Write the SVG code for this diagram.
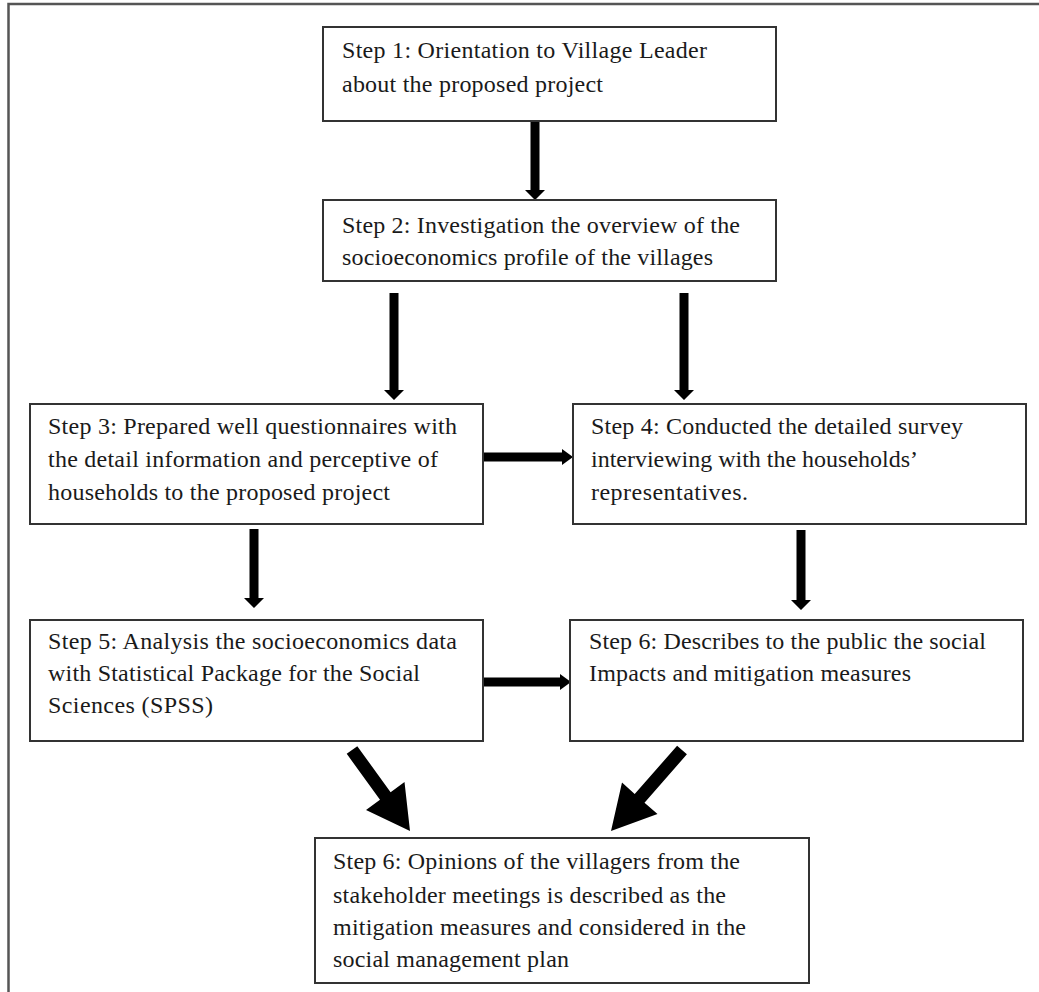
<svg xmlns="http://www.w3.org/2000/svg" width="1039" height="992" viewBox="0 0 1039 992">
<style>
.box{fill:#fff;stroke:#333;stroke-width:2}
.t{font-family:"Liberation Serif","Times New Roman",serif;font-size:24px;fill:#1a1a1a}
.arr{fill:#000;stroke:none}
.frame{stroke:#555;stroke-width:2.5;fill:none}
</style>
<rect width="1039" height="992" fill="#fff"/>
<path class="frame" d="M8.5,992 V4 H1039"/>
<g id="connectors">
<path class="arr" d="M530.5,122 H539.5 V190 H545 L535,200 L525,190 H530.5 Z"/>
<path class="arr" d="M389.5,293 H398.5 V390 H404 L394,400 L384,390 H389.5 Z"/>
<path class="arr" d="M679.5,293 H688.5 V390 H694 L684,400 L674,390 H679.5 Z"/>
<path class="arr" d="M249.5,529 H258.5 V598 H264 L254,608 L244,598 H249.5 Z"/>
<path class="arr" d="M796.5,530 H805.5 V600 H811 L801,610 L791,600 H796.5 Z"/>
<path class="arr" d="M483,452.5 V461.5 H562 V465 L573,457 L562,449 V452.5 Z"/>
<path class="arr" d="M483,677.5 V686.5 H560 V690 L571,682 L560,674 V677.5 Z"/>
<path class="arr" d="M346.7,753.8 L380,799.8 L366,810 L410,831 L404.5,782 L390.6,792.2 L357.3,746.2 Z"/>
<path class="arr" d="M686.9,754.3 L644.5,802.7 L657.5,814 L611,831 L622,782.5 L634.7,794.1 L677.1,745.7 Z"/>
</g>
<g id="step1">
<rect class="box" x="323" y="27" width="453" height="94"/>
<text class="t" x="342" y="58" textLength="365" lengthAdjust="spacing">Step 1: Orientation to Village Leader</text>
<text class="t" x="342" y="92" textLength="261" lengthAdjust="spacing">about the proposed project</text>
</g>
<g id="step2">
<rect class="box" x="323" y="200" width="453" height="81"/>
<text class="t" x="342" y="233" textLength="398" lengthAdjust="spacing">Step 2: Investigation the overview of the</text>
<text class="t" x="342" y="265" textLength="371" lengthAdjust="spacing">socioeconomics profile of the villages</text>
</g>
<g id="step3">
<rect class="box" x="30" y="404" width="453" height="120"/>
<text class="t" x="48" y="434" textLength="409" lengthAdjust="spacing">Step 3: Prepared well questionnaires with</text>
<text class="t" x="48" y="467" textLength="390" lengthAdjust="spacing">the detail information and perceptive of</text>
<text class="t" x="48" y="500" textLength="342" lengthAdjust="spacing">households to the proposed project</text>
</g>
<g id="step4">
<rect class="box" x="573" y="404" width="453" height="120"/>
<text class="t" x="591" y="434" textLength="372" lengthAdjust="spacing">Step 4: Conducted the detailed survey</text>
<text class="t" x="591" y="467" textLength="327" lengthAdjust="spacing">interviewing with the households’</text>
<text class="t" x="591" y="500" textLength="157" lengthAdjust="spacing">representatives.</text>
</g>
<g id="step5">
<rect class="box" x="30" y="620" width="453" height="121"/>
<text class="t" x="48" y="649" textLength="409" lengthAdjust="spacing">Step 5: Analysis the socioeconomics data</text>
<text class="t" x="48" y="681" textLength="372" lengthAdjust="spacing">with Statistical Package for the Social</text>
<text class="t" x="48" y="713" textLength="165" lengthAdjust="spacing">Sciences (SPSS)</text>
</g>
<g id="step6">
<rect class="box" x="570" y="620" width="453" height="121"/>
<text class="t" x="589" y="649" textLength="397" lengthAdjust="spacing">Step 6: Describes to the public the social</text>
<text class="t" x="589" y="681" textLength="322" lengthAdjust="spacing">Impacts and mitigation measures</text>
</g>
<g id="step7">
<rect class="box" x="315" y="838" width="494" height="145"/>
<text class="t" x="333" y="869" textLength="407" lengthAdjust="spacing">Step 6: Opinions of the villagers from the</text>
<text class="t" x="333" y="903" textLength="393" lengthAdjust="spacing">stakeholder meetings is described as the</text>
<text class="t" x="333" y="935" textLength="413" lengthAdjust="spacing">mitigation measures and considered in the</text>
<text class="t" x="333" y="967" textLength="236" lengthAdjust="spacing">social management plan</text>
</g>
</svg>
